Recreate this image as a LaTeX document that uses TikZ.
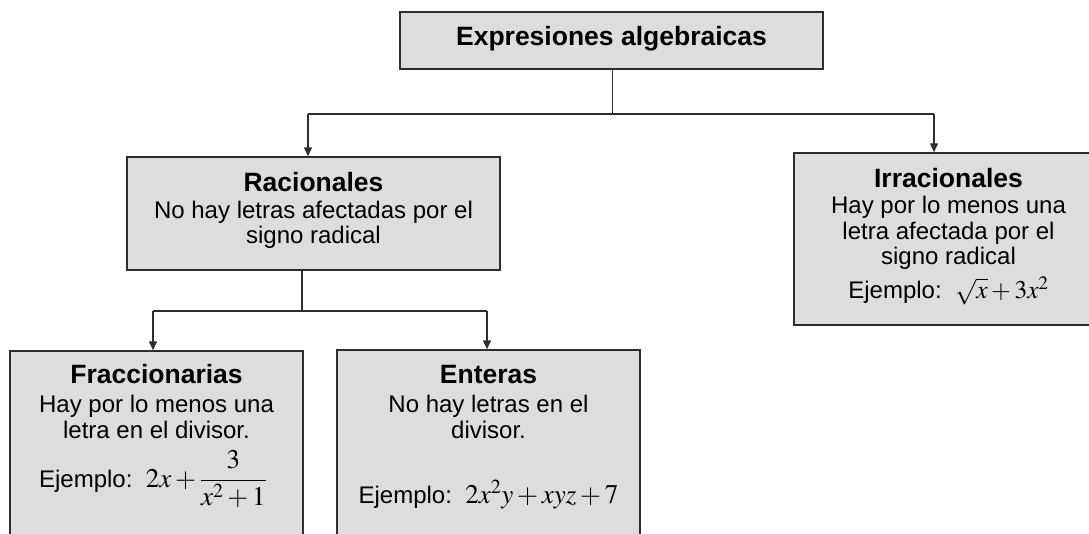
\documentclass[tikz,border=0pt]{standalone}
\usepackage{mathptmx}
\usepackage[no-math]{fontspec}
\setmainfont{Liberation Sans}
\usetikzlibrary{arrows.meta}
\definecolor{boxgray}{RGB}{221,221,221}
\definecolor{linegray}{RGB}{45,45,45}
\begin{document}
\begin{tikzpicture}[x=1pt,y=-1pt,
  box/.style={draw=linegray, fill=boxgray, line width=1.5pt, rectangle, inner sep=0pt},
  ttl/.style={anchor=base, inner sep=0pt, font=\fontsize{26.5}{28}\bfseries\selectfont},
  txt/.style={anchor=base, inner sep=0pt, font=\fontsize{24}{26}\selectfont},
  conn/.style={draw=linegray, line width=1.5pt},
  arr/.style={conn, -{Triangle[length=9pt,width=8pt]}}]
\clip (0,0) rectangle (1089,533);
\fill[white] (0,0) rectangle (1089,533);
% boxes
\node[box, minimum width=423pt, minimum height=57pt] (top) at (611.5,40.5) {};
\node[box, minimum width=373pt, minimum height=113pt] (rac) at (313.5,213.5) {};
\node[box, minimum width=309pt, minimum height=172pt] (irr) at (948.5,239) {};
\node[box, minimum width=293pt, minimum height=249pt] (fra) at (156.5,475.5) {};
\node[box, minimum width=303pt, minimum height=250pt] (ent) at (488.5,475) {};
% texts
\node[ttl] (topT) at (611.5,45) {Expresiones algebraicas};
\node[ttl] (racT) at (313.5,191) {Racionales};
\node[txt] (rac1) at (313.5,218) {No hay letras afectadas por el};
\node[txt] (rac2) at (313.5,243.5) {signo radical};
\node[ttl] (irrT) at (948.5,187) {Irracionales};
\node[txt] (irr1) at (948.5,213.5) {Hay por lo menos una};
\node[txt] (irr2) at (948.5,239) {letra afectada por el};
\node[txt] (irr3) at (948.5,264) {signo radical};
\node[txt] (irr4) at (948.5,298.5) {Ejemplo:\ \ \smash{\fontsize{25.5}{30}\selectfont$\sqrt{x}+3x^2$}};
\node[ttl] (fraT) at (156.5,383) {Fraccionarias};
\node[txt] (fra1) at (156.5,412) {Hay por lo menos una};
\node[txt] (fra2) at (156.5,438) {letra en el divisor.};
\node[txt] (fra3) at (153,487) {Ejemplo:\ \ {\fontsize{27}{30}\selectfont$2x+{\displaystyle\frac{3}{x^2+1}}$}};
\node[ttl] (entT) at (488.5,383) {Enteras};
\node[txt] (ent1) at (488.5,412) {No hay letras en el};
\node[txt] (ent2) at (488.5,438) {divisor.};
\node[txt] (ent3) at (488.5,503) {Ejemplo:\ \ {\fontsize{27}{30}\selectfont$2x^2y+xyz+7$}};
% connectors
\coordinate (j1) at (612.5,114);
\coordinate (l1) at (308,114);
\coordinate (r1) at (934,114);
\draw[conn] (top.south -| j1) -- (j1);
\draw[conn] (l1) -- (r1);
\draw[arr] (l1) -- (l1 |- rac.north);
\draw[arr] (r1) -- (r1 |- irr.north);
\coordinate (j2) at (302,311);
\coordinate (l2) at (153,311);
\coordinate (r2) at (487,311);
\draw[conn] (rac.south -| j2) -- (j2);
\draw[conn] (l2) -- (r2);
\draw[arr] (l2) -- (l2 |- fra.north);
\draw[arr] (r2) -- (r2 |- ent.north);
\end{tikzpicture}
\end{document}
